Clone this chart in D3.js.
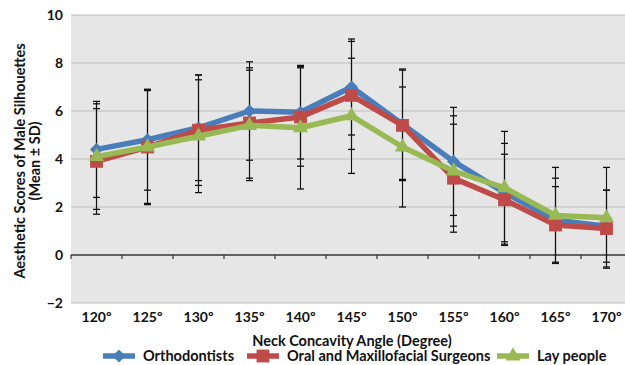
<!DOCTYPE html>
<html>
<head>
<meta charset="utf-8">
<script src="https://cdn.jsdelivr.net/npm/d3@7"></script>
<style>
  body { margin: 0; background: #fff; }
  text { font-family: Lato, "Open Sans", sans-serif; font-weight: bold; fill: #111; }
</style>
</head>
<body>
<div class="canvas"></div>
<script>
// chart data
const angles = ["120º", "125º", "130º", "135º", "140º", "145º", "150º", "155º", "160º", "165º", "170º"];
const orthoMean = [4.4, 4.8, 5.3, 6.0, 5.95, 7.0, 5.45, 3.9, 2.6, 1.45, 1.2];
const orthoSD   = [2.0, 2.1, 2.2, 2.05, 1.95, 2.0, 2.3, 2.25, 2.05, 1.75, 1.5];
const surgMean  = [3.9, 4.5, 5.2, 5.5, 5.75, 6.65, 5.4, 3.2, 2.3, 1.25, 1.1];
const surgSD    = [2.2, 2.35, 2.3, 2.3, 2.05, 2.25, 2.3, 2.25, 1.9, 1.6, 1.6];
const layMean   = [4.1, 4.5, 4.95, 5.4, 5.3, 5.8, 4.5, 3.5, 2.8, 1.65, 1.55];
const laySD     = [2.2, 2.4, 2.35, 2.3, 2.55, 2.4, 2.5, 2.3, 2.35, 2.0, 2.1];
const yTicks = [-2, 0, 2, 4, 6, 8, 10];

const series = [
  {name: "Orthodontists", mean: orthoMean, sd: orthoSD, color: "#4a7ebb", shape: d3.symbolDiamond2, size: 110},
  {name: "Oral and Maxillofacial Surgeons", mean: surgMean, sd: surgSD, color: "#be4b48", shape: d3.symbolSquare, size: 165},
  {name: "Lay people", mean: layMean, sd: laySD, color: "#98b954", shape: d3.symbolTriangle, size: 100}
];

const width = 625, height = 365;
const svg = d3.select(".canvas").append("svg")
    .attr("width", width)
    .attr("height", height);

const plotLeft = 71, plotRight = 632, plotTop = 15, plotBottom = 303;
const tickFs = "14px", titleFs = "14.5px";

const x = d3.scaleBand().domain(angles).range([plotLeft, plotRight]);
const y = d3.scaleLinear().domain([-2, 10]).range([plotBottom, plotTop]);
const cx = d => x(d) + x.bandwidth() / 2;

// plot background
svg.append("rect")
    .attr("x", plotLeft).attr("y", plotTop)
    .attr("width", plotRight - plotLeft).attr("height", plotBottom - plotTop)
    .attr("fill", "#e6e6e6");

// gridlines
svg.append("g").selectAll("line")
  .data(yTicks.filter(t => t !== 0))
  .enter().append("line")
    .attr("x1", plotLeft).attr("x2", plotRight)
    .attr("y1", d => y(d)).attr("y2", d => y(d))
    .attr("stroke", "#bdbdbd").attr("stroke-width", 1.2);

// y tick labels
const yAxis = svg.append("g")
    .attr("transform", `translate(${plotLeft},0)`)
    .call(d3.axisLeft(y).tickValues(yTicks).tickSize(0).tickPadding(8));
yAxis.select(".domain").remove();
yAxis.selectAll("text").style("font-size", tickFs).attr("font-family", null).attr("fill", "#111");

// zero line with category ticks
const zeroAxis = svg.append("g")
    .attr("transform", `translate(0,${y(0)})`);
zeroAxis.append("line")
    .attr("x1", plotLeft).attr("x2", plotRight)
    .attr("stroke", "#333").attr("stroke-width", 1.3);
zeroAxis.selectAll(".tk")
  .data(angles)
  .enter().append("line")
    .attr("class", "tk")
    .attr("x1", d => x(d)).attr("x2", d => x(d))
    .attr("y1", 0).attr("y2", 4)
    .attr("stroke", "#333").attr("stroke-width", 1.2);

// x tick labels below plot
svg.append("g").selectAll("text")
  .data(angles)
  .enter().append("text")
    .attr("x", d => cx(d))
    .attr("y", 322)
    .attr("text-anchor", "middle")
    .style("font-size", tickFs)
    .text(d => d);

// error bars
const capW = 3.5;
series.forEach(s => {
  const g = svg.append("g");
  angles.forEach((a, i) => {
    const hi = s.mean[i] + s.sd[i], lo = s.mean[i] - s.sd[i];
    g.append("line")
      .attr("x1", cx(a)).attr("x2", cx(a))
      .attr("y1", y(hi)).attr("y2", y(lo))
      .attr("stroke", "#111").attr("stroke-width", 1.1);
    [hi, lo].forEach(v => {
      g.append("line")
        .attr("x1", cx(a) - capW).attr("x2", cx(a) + capW)
        .attr("y1", y(v)).attr("y2", y(v))
        .attr("stroke", "#111").attr("stroke-width", 1.3);
    });
  });
});

// lines and markers
const line = d3.line()
    .x((d, i) => cx(angles[i]))
    .y(d => y(d));

series.forEach(s => {
  svg.append("path")
    .datum(s.mean)
    .attr("d", line)
    .attr("fill", "none")
    .attr("stroke", s.color)
    .attr("stroke-width", 5.5)
    .attr("stroke-linejoin", "round");
  svg.append("g").selectAll("path")
    .data(s.mean)
    .enter().append("path")
      .attr("d", d3.symbol().type(s.shape).size(s.size))
      .attr("transform", (d, i) => `translate(${cx(angles[i])},${y(d)})`)
      .attr("fill", s.color);
});

// axis titles
svg.append("text")
    .attr("x", 352).attr("y", 346)
    .attr("text-anchor", "middle")
    .style("font-size", titleFs)
    .text("Neck Concavity Angle (Degree)");

const yl = svg.append("text")
    .attr("transform", "translate(0,161) rotate(-90)")
    .attr("text-anchor", "middle")
    .style("font-size", titleFs);
yl.append("tspan").attr("x", 0).attr("y", 25).text("Aesthetic Scores of Male Silhouettes");
yl.append("tspan").attr("x", 0).attr("y", 40).text("(Mean ± SD)");

// legend
const legendX = [103, 247, 497];
const legend = svg.append("g");
series.forEach((s, i) => {
  const lg = legend.append("g").attr("transform", `translate(${legendX[i]},356)`);
  lg.append("line")
    .attr("x1", 0).attr("x2", 32)
    .attr("stroke", s.color).attr("stroke-width", 5.5);
  lg.append("path")
    .attr("d", d3.symbol().type(s.shape).size(s.size))
    .attr("transform", "translate(16,0)")
    .attr("fill", s.color);
  lg.append("text")
    .attr("x", 40).attr("y", 5)
    .style("font-size", titleFs)
    .text(s.name);
});
</script>
</body>
</html>
